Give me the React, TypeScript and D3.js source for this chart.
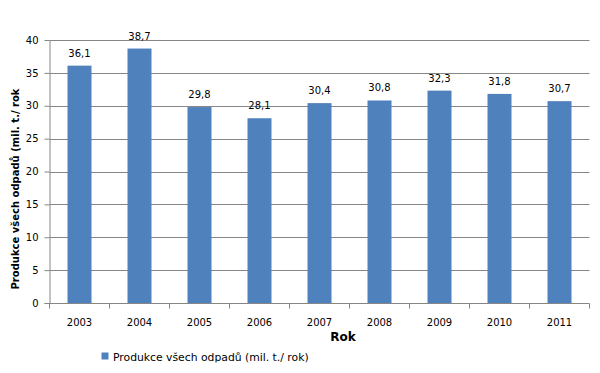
import React, { useEffect, useRef } from 'react';
import * as d3 from 'd3';

const years = ['2003', '2004', '2005', '2006', '2007', '2008', '2009', '2010', '2011'];
const waste = [36.1, 38.7, 29.8, 28.1, 30.4, 30.8, 32.3, 31.8, 30.7];
const yTicks = [0, 5, 10, 15, 20, 25, 30, 35, 40];
const seriesName = 'Produkce všech odpadů (mil. t./ rok)';

const App = () => {
  const ref = useRef<SVGSVGElement>(null);

  useEffect(() => {
    const svg = d3.select(ref.current);
    svg.selectAll('*').remove();

    const left = 49.5;
    const right = 589.5;
    const top = 40;
    const bottom = 303;
    const font = 'DejaVu Sans, Verdana, sans-serif';

    const x = d3.scaleBand().domain(years).range([left, right]).paddingInner(0.6).paddingOuter(0.3);
    const y = d3.scaleLinear().domain([0, 40]).range([bottom, top]);

    // gridlines
    svg.append('g')
      .selectAll('line')
      .data(yTicks.filter((t) => t > 0))
      .enter()
      .append('line')
      .attr('x1', left)
      .attr('x2', right)
      .attr('y1', (d) => Math.round(y(d)) + 0.5)
      .attr('y2', (d) => Math.round(y(d)) + 0.5)
      .attr('stroke', '#868686')
      .attr('stroke-width', 1);

    // bars
    svg.append('g')
      .selectAll('rect')
      .data(waste)
      .enter()
      .append('rect')
      .attr('x', (d, i) => x(years[i])!)
      .attr('y', (d) => y(d))
      .attr('width', x.bandwidth())
      .attr('height', (d) => bottom - y(d))
      .attr('fill', '#4F81BD');

    // value labels
    svg.append('g')
      .selectAll('text')
      .data(waste)
      .enter()
      .append('text')
      .attr('x', (d, i) => x(years[i])! + x.bandwidth() / 2)
      .attr('y', (d) => y(d) - 9)
      .attr('text-anchor', 'middle')
      .attr('font-family', font)
      .attr('font-size', 10)
      .attr('fill', '#000')
      .text((d) => d.toFixed(1).replace('.', ','));

    // y axis
    const yAxis = svg.append('g')
      .attr('transform', `translate(${left},0)`)
      .call(d3.axisLeft(y).tickValues(yTicks).tickSize(5).tickPadding(6));
    yAxis.select('.domain').attr('stroke', '#868686').attr('d', `M-5,${bottom + 0.5}H0.5V${top}`);
    yAxis.selectAll('.tick line').attr('stroke', '#868686');
    yAxis.selectAll('text').attr('font-family', font).attr('font-size', 10).attr('fill', '#000');

    // x axis
    const xAxis = svg.append('g')
      .attr('transform', `translate(0,${bottom + 0.5})`)
      .call(d3.axisBottom(x).tickSize(0).tickPadding(15));
    xAxis.select('.domain').attr('stroke', '#868686').attr('d', `M${left},0H${right}`);
    xAxis.selectAll('text').attr('font-family', font).attr('font-size', 10).attr('fill', '#000');
    xAxis.append('g')
      .selectAll('line')
      .data(d3.range(years.length + 1))
      .enter()
      .append('line')
      .attr('x1', (i) => left + i * x.step())
      .attr('x2', (i) => left + i * x.step())
      .attr('y1', 0)
      .attr('y2', 5)
      .attr('stroke', '#868686');

    // axis titles
    svg.append('text')
      .attr('x', 343)
      .attr('y', 341)
      .attr('text-anchor', 'middle')
      .attr('font-family', font)
      .attr('font-size', 12)
      .attr('font-weight', 'bold')
      .text('Rok');

    svg.append('text')
      .attr('transform', 'translate(19,189) rotate(-90)')
      .attr('text-anchor', 'middle')
      .attr('font-family', font)
      .attr('font-size', 10)
      .attr('font-weight', 'bold')
      .text('Produkce všech odpadů (mil. t./ rok');

    // legend
    const legend = svg.append('g');
    legend.append('rect')
      .attr('x', 101.5)
      .attr('y', 352.5)
      .attr('width', 7)
      .attr('height', 7)
      .attr('fill', '#4F81BD');
    svg.append('clipPath').attr('id', 'legclip')
      .append('rect').attr('x', 0).attr('y', 0).attr('width', 600).attr('height', 362.5);
    legend.append('text')
      .attr('x', 113)
      .attr('y', 361)
      .attr('clip-path', 'url(#legclip)')
      .attr('font-family', font)
      .attr('font-size', 10.8)
      .attr('fill', '#000')
      .text(seriesName);
  }, []);

  return (
    <svg ref={ref} width={600} height={373} style={{ position: 'absolute', left: 0, top: 0, background: '#fff' }} />
  );
};

export default App;
